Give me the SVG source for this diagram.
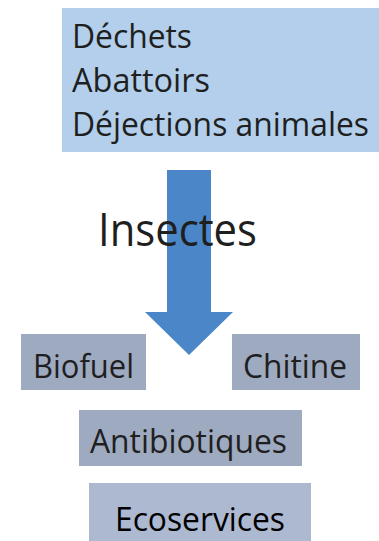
<svg xmlns="http://www.w3.org/2000/svg" width="379" height="541" viewBox="0 0 379 541">
<style>
text{font-family:"Open Sans","Noto Sans","Liberation Sans",sans-serif;fill:#1f1f1f}
.lbl{font-size:33px}
.gray{fill:#9eaabf}
</style>
<rect width="379" height="541" fill="#ffffff"/>
<g id="sources">
<rect x="62" y="8" width="317" height="144" fill="#b3cfeb"/>
<text class="lbl" x="72" y="48" textLength="120" lengthAdjust="spacingAndGlyphs">Déchets</text>
<text class="lbl" x="72" y="92" textLength="138" lengthAdjust="spacingAndGlyphs">Abattoirs</text>
<text class="lbl" x="72" y="136" textLength="297" lengthAdjust="spacingAndGlyphs">Déjections animales</text>
</g>
<g id="connectors">
<polygon points="167,170 211,170 211,312 233,312 189,355 145,312 167,312" fill="#4a86c8"/>
</g>
<g id="insectes">
<text x="98" y="246" font-size="46" textLength="159" lengthAdjust="spacingAndGlyphs">Insectes</text>
</g>
<g id="biofuel">
<rect class="gray" x="21" y="334" width="125" height="56"/>
<text class="lbl" x="33" y="378" textLength="101" lengthAdjust="spacingAndGlyphs">Biofuel</text>
</g>
<g id="chitine">
<rect class="gray" x="232" y="334" width="128" height="56"/>
<text class="lbl" x="243" y="378" textLength="104" lengthAdjust="spacingAndGlyphs">Chitine</text>
</g>
<g id="antibiotiques">
<rect class="gray" x="79" y="410" width="223" height="56"/>
<text class="lbl" x="90" y="453" textLength="197" lengthAdjust="spacingAndGlyphs">Antibiotiques</text>
</g>
<g id="ecoservices">
<rect x="89" y="483" width="222" height="58" fill="#adb9d0"/>
<text class="lbl" x="115" y="531" textLength="170" lengthAdjust="spacingAndGlyphs" style="fill:#000">Ecoservices</text>
</g>
</svg>
